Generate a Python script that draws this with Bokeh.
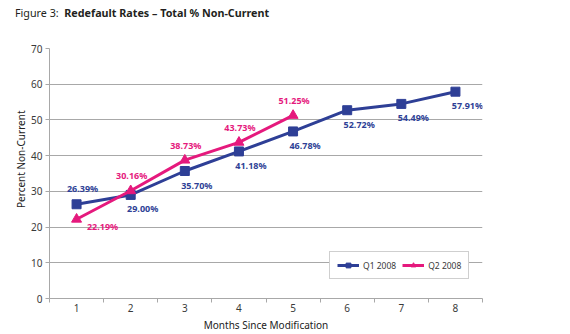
from bokeh.plotting import figure
from bokeh.models import FixedTicker, Legend, LegendItem, ColumnDataSource, Range1d, Div, Title
from bokeh.layouts import column
from bokeh.embed import file_html
from bokeh.resources import INLINE
from bokeh.core.properties import value

# ---- data ----
months = [1, 2, 3, 4, 5, 6, 7, 8]
q1_values = [26.39, 29.00, 35.70, 41.18, 46.78, 52.72, 54.49, 57.91]
q2_months = [1, 2, 3, 4, 5]
q2_values = [22.19, 30.16, 38.73, 43.73, 51.25]
y_ticks = [0, 10, 20, 30, 40, 50, 60, 70]
series_names = ["Q1 2008", "Q2 2008"]
title_prefix = "Figure 3:"
title_main = "Redefault Rates \u2013 Total % Non-Current"
x_title = "Months Since Modification"
y_title = "Percent Non-Current"

BLUE = "#2e3f96"
PINK = "#e5197d"
GRID = "#a8a8a8"
TXT = "#3a3a3a"
FONT = "Noto Sans"

W, H = 570, 334
HEAD = 30
FL, FR, FT, FB = 49, 482, 48, 299  # frame edges in page pixels

header = Div(text=('<div style="font-family:\'%s\';font-size:10.75px;color:#231f20;'
                   'padding:6px 0 0 15px;white-space:nowrap;">%s&nbsp;&nbsp;<b>%s</b></div>')
             % (FONT, title_prefix, title_main),
             width=W, height=HEAD, margin=(0, 0, 0, 0))

x0, x1 = months[0] - 0.5, months[-1] + 0.5
p = figure(width=W, height=H - HEAD, x_range=Range1d(x0, x1), y_range=Range1d(y_ticks[0], y_ticks[-1]),
           output_backend="svg", toolbar_location=None, margin=(0, 0, 0, 0),
           min_border_left=FL, min_border_right=W - FR, min_border_top=FT - HEAD,
           min_border_bottom=H - FB)
p.outline_line_color = None
p.background_fill_color = "white"
p.border_fill_color = "white"
p.xgrid.grid_line_color = None
p.ygrid.grid_line_color = GRID
p.ygrid.grid_line_width = 1

# y axis
p.yaxis.ticker = FixedTicker(ticks=y_ticks)
p.yaxis.axis_line_color = GRID
p.yaxis.major_tick_line_color = GRID
p.yaxis.major_tick_in = 0
p.yaxis.major_tick_out = 4
p.yaxis.minor_tick_line_color = None
p.yaxis.major_label_text_font = FONT
p.yaxis.major_label_text_font_size = "10px"
p.yaxis.major_label_text_color = TXT
p.yaxis.major_label_standoff = 3

# x axis: labels at category centres, tick marks at boundaries
bounds = [m - 0.5 for m in months] + [months[-1] + 0.5]
p.xaxis.ticker = FixedTicker(ticks=months, minor_ticks=bounds)
p.xaxis.axis_line_color = GRID
p.xaxis.major_tick_line_color = None
p.xaxis.major_tick_in = 0
p.xaxis.major_tick_out = 0
p.xaxis.minor_tick_line_color = GRID
p.xaxis.minor_tick_in = 0
p.xaxis.minor_tick_out = 4
p.xaxis.major_label_text_font = FONT
p.xaxis.major_label_text_font_size = "10px"
p.xaxis.major_label_text_color = TXT
p.xaxis.major_label_standoff = 1
p.xaxis.axis_label = x_title
p.xaxis.axis_label_text_font = FONT
p.xaxis.axis_label_text_font_size = "10px"
p.xaxis.axis_label_text_font_style = "normal"
p.xaxis.axis_label_text_color = "#222222"
p.xaxis.axis_label_standoff = 3

# y axis title as a side title, anchored towards the top like the original
p.add_layout(Title(text=y_title, text_font=FONT, text_font_size="10px", text_font_style="normal",
                   text_color="#222222", align="right", offset=62, standoff=2), "left")

# series
s1 = ColumnDataSource(dict(x=months, y=q1_values,
                           t=["%.2f%%" % v for v in q1_values],
                           dx=[6 if i == 0 else 12 for i in range(len(months))],
                           dy=[-16 if i == 0 else 14 for i in range(len(months))]))
s2 = ColumnDataSource(dict(x=q2_months, y=q2_values,
                           t=["%.2f%%" % v for v in q2_values],
                           dx=[26 if i == 0 else 1 for i in range(len(q2_months))],
                           dy=[7 if i == 0 else -15 for i in range(len(q2_months))]))

l1 = p.line("x", "y", source=s1, line_color=BLUE, line_width=3)
m1 = p.scatter("x", "y", source=s1, marker="square", size=9, fill_color=BLUE, line_color=BLUE)
l2 = p.line("x", "y", source=s2, line_color=PINK, line_width=3)
m2 = p.scatter("x", "y", source=s2, marker="triangle", size=10, fill_color=PINK, line_color=PINK)

for src, col in ((s1, BLUE), (s2, PINK)):
    p.text("x", "y", text="t", source=src, x_offset="dx", y_offset="dy",
           text_font=value(FONT), text_font_size="9px", text_font_style="bold",
           text_color=col, text_align="center", text_baseline="middle")

legend = Legend(items=[LegendItem(label=series_names[0], renderers=[l1, m1]),
                       LegendItem(label=series_names[1], renderers=[l2, m2])],
                orientation="horizontal", location=(280, 19))
legend.border_line_color = "#a0a0a0"
legend.background_fill_color = "white"
legend.background_fill_alpha = 1
legend.label_text_font = FONT
legend.label_text_font_size = "8.5px"
legend.label_text_color = TXT
legend.glyph_width = 22
legend.glyph_height = 12
legend.padding = 7
legend.spacing = 6
legend.label_standoff = 4
legend.margin = 0
p.add_layout(legend, "center")

layout = column(header, p, spacing=0, margin=(0, 0, 0, 0))
open("out.html", "w").write(file_html(layout, INLINE))
